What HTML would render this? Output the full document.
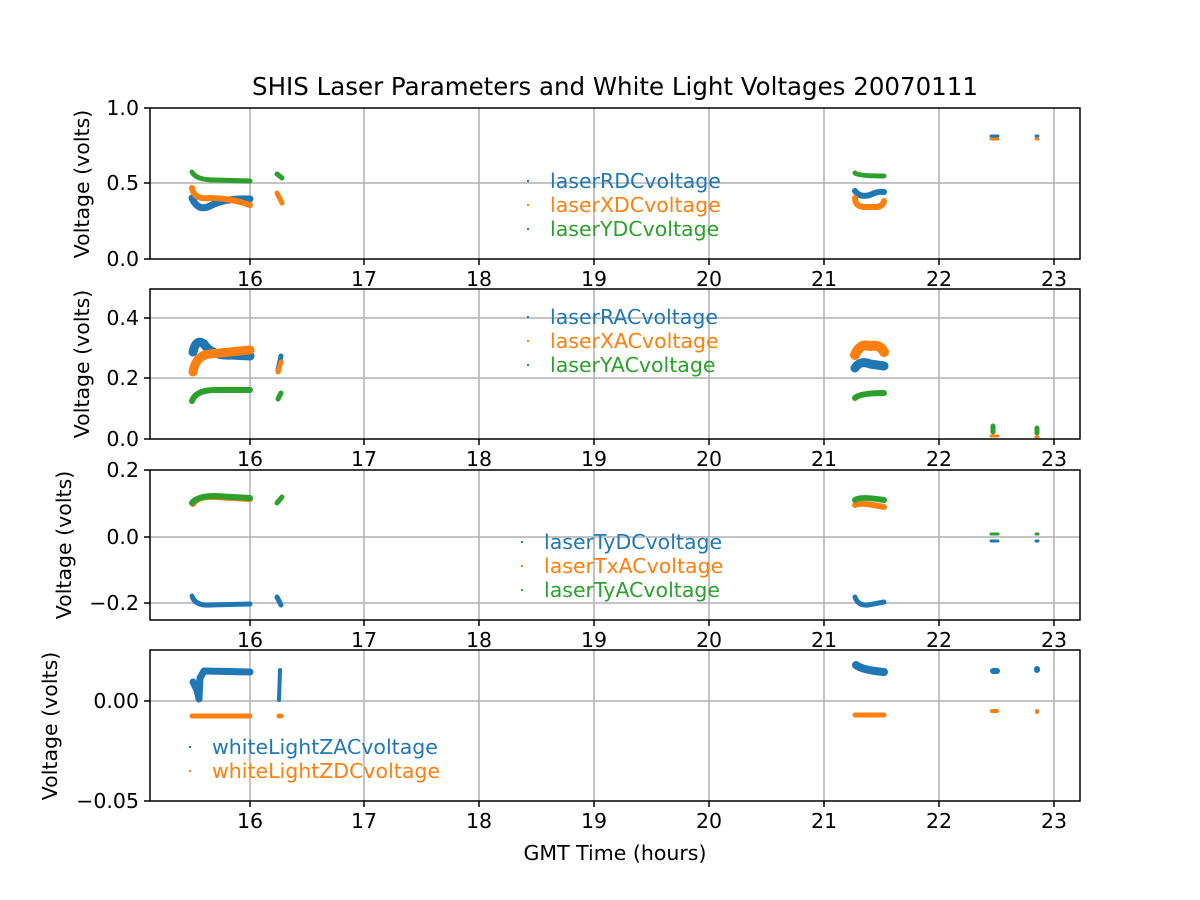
<!DOCTYPE html>
<html><head><meta charset="utf-8"><style>body{margin:0;background:#fff}svg{display:block}text{font-family:"DejaVu Sans","Liberation Sans",sans-serif;fill:#000}</style></head><body>
<svg width="1200" height="900" xmlns="http://www.w3.org/2000/svg">
<rect width="1200" height="900" fill="#fff"/>
<text x="615" y="95" font-size="24.5" text-anchor="middle">SHIS Laser Parameters and White Light Voltages 20070111</text>
<g stroke="#b0b0b0" stroke-width="1.5">
<g id="vg"><line x1="250" x2="250" y1="108" y2="259"/><line x1="364" x2="364" y1="108" y2="259"/><line x1="479" x2="479" y1="108" y2="259"/><line x1="594" x2="594" y1="108" y2="259"/><line x1="709" x2="709" y1="108" y2="259"/><line x1="824" x2="824" y1="108" y2="259"/><line x1="939" x2="939" y1="108" y2="259"/><line x1="1054" x2="1054" y1="108" y2="259"/></g>
<use href="#vg" y="181"/><use href="#vg" y="362"/><use href="#vg" y="542"/>
<line x1="150" x2="1080" y1="183" y2="183"/>
<line x1="150" x2="1080" y1="318" y2="318"/><line x1="150" x2="1080" y1="378" y2="378"/>
<line x1="150" x2="1080" y1="537" y2="537"/><line x1="150" x2="1080" y1="603" y2="603"/>
<line x1="150" x2="1080" y1="701" y2="701"/>
</g>
<g fill="none" stroke-linecap="round" stroke-linejoin="round">
<!-- panel1 -->
<path d="M192 198 Q198 212 210 206 Q225 198 250 199" stroke="#1f77b4" stroke-width="7"/>
<path d="M192 188 Q194 200 210 198 Q230 198 250 205" stroke="#ff7f0e" stroke-width="6"/>
<path d="M192 172 Q196 180 215 180 L250 181" stroke="#2ca02c" stroke-width="5"/>
<path d="M277 174 L282 178" stroke="#2ca02c" stroke-width="5"/>
<path d="M277 193 L282 203" stroke="#ff7f0e" stroke-width="5"/>
<path d="M855 191 Q860 198 870 195 Q878 191 884 192" stroke="#1f77b4" stroke-width="6"/>
<path d="M855 198 Q855 208 868 207 L877 207 Q883 206 884 201" stroke="#ff7f0e" stroke-width="6"/>
<path d="M855 173 Q858 176 884 176" stroke="#2ca02c" stroke-width="5"/>
<path d="M991 136 L998 136 M1036 136 L1038 136" stroke="#1f77b4" stroke-width="3"/>
<path d="M991 139 L998 139 M1036 139 L1038 139" stroke="#ff7f0e" stroke-width="3"/>
<!-- panel2 -->
<path d="M193 352 Q196 338 204 344 Q212 356 230 355 L250 356" stroke="#1f77b4" stroke-width="9"/>
<path d="M193 372 Q196 355 210 354 Q230 352 250 350" stroke="#ff7f0e" stroke-width="9"/>
<path d="M192 401 Q196 390 215 390 L250 390" stroke="#2ca02c" stroke-width="6"/>
<path d="M278 370 L281 356" stroke="#1f77b4" stroke-width="5"/>
<path d="M278 372 L281 362" stroke="#ff7f0e" stroke-width="5"/>
<path d="M278 399 L281 393" stroke="#2ca02c" stroke-width="5"/>
<path d="M855 368 Q860 360 870 364 L884 366" stroke="#1f77b4" stroke-width="9"/>
<path d="M855 355 Q860 343 870 346 Q880 344 884 352" stroke="#ff7f0e" stroke-width="10"/>
<path d="M855 398 Q860 393 884 393" stroke="#2ca02c" stroke-width="6"/>
<path d="M993 426 L993 432 M1037 428 L1037 433" stroke="#2ca02c" stroke-width="5"/>
<path d="M991 436 L998 436 M1036 437 L1038 437" stroke="#ff7f0e" stroke-width="3"/>
<!-- panel3 -->
<path d="M193 504 Q198 496 215 497 L250 499" stroke="#ff7f0e" stroke-width="6"/>
<path d="M192 503 Q197 496 215 496 L250 498" stroke="#2ca02c" stroke-width="6"/>
<path d="M192 596 Q195 606 210 605 L250 604" stroke="#1f77b4" stroke-width="5"/>
<path d="M277 503 L282 497" stroke="#2ca02c" stroke-width="5"/>
<path d="M277 597 L281 605" stroke="#1f77b4" stroke-width="5"/>
<path d="M855 505 Q860 502 884 507" stroke="#ff7f0e" stroke-width="6"/>
<path d="M855 500 Q860 496 884 500" stroke="#2ca02c" stroke-width="6"/>
<path d="M855 597 Q858 606 868 605 L884 602" stroke="#1f77b4" stroke-width="5"/>
<path d="M991 534 L998 534 M1036 534 L1038 534" stroke="#2ca02c" stroke-width="3"/>
<path d="M991 541 L998 541 M1036 541 L1038 541" stroke="#1f77b4" stroke-width="3"/>
<!-- panel4 -->
<path d="M193 682 L197 690 L199 699 L200 678 L204 671 L250 672" stroke="#1f77b4" stroke-width="7"/>
<path d="M192 716 L250 716" stroke="#ff7f0e" stroke-width="5"/>
<path d="M279 700 L280 670" stroke="#1f77b4" stroke-width="4"/>
<path d="M279 716 L281 716" stroke="#ff7f0e" stroke-width="5"/>
<path d="M856 665 Q862 670 884 672" stroke="#1f77b4" stroke-width="8"/>
<path d="M855 715 L884 715" stroke="#ff7f0e" stroke-width="5"/>
<path d="M993 671 L997 671 M1037 669 L1037 670" stroke="#1f77b4" stroke-width="6"/>
<path d="M992 711 L997 711 M1037 711 L1037 712" stroke="#ff7f0e" stroke-width="4"/>
</g>
<g fill="none" stroke="#000" stroke-width="1.5">
<rect x="150" y="108" width="930" height="151"/>
<rect x="150" y="289" width="930" height="150"/>
<rect x="150" y="470" width="930" height="150"/>
<rect x="150" y="650" width="930" height="151"/>
</g>
<g stroke="#000" stroke-width="1.5">
<g id="xt"><line x1="250" x2="250" y1="259" y2="265"/><line x1="364" x2="364" y1="259" y2="265"/><line x1="479" x2="479" y1="259" y2="265"/><line x1="594" x2="594" y1="259" y2="265"/><line x1="709" x2="709" y1="259" y2="265"/><line x1="824" x2="824" y1="259" y2="265"/><line x1="939" x2="939" y1="259" y2="265"/><line x1="1054" x2="1054" y1="259" y2="265"/></g>
<use href="#xt" y="180"/><use href="#xt" y="361"/><use href="#xt" y="542"/>
<line x1="144" x2="150" y1="108" y2="108"/><line x1="144" x2="150" y1="183" y2="183"/><line x1="144" x2="150" y1="259" y2="259"/>
<line x1="144" x2="150" y1="318" y2="318"/><line x1="144" x2="150" y1="378" y2="378"/><line x1="144" x2="150" y1="439" y2="439"/>
<line x1="144" x2="150" y1="470" y2="470"/><line x1="144" x2="150" y1="537" y2="537"/><line x1="144" x2="150" y1="603" y2="603"/>
<line x1="144" x2="150" y1="701" y2="701"/><line x1="144" x2="150" y1="801" y2="801"/>
</g>
<g font-size="20.5" text-anchor="middle">
<g id="xl"><text x="250" y="286">16</text><text x="364" y="286">17</text><text x="479" y="286">18</text><text x="594" y="286">19</text><text x="709" y="286">20</text><text x="824" y="286">21</text><text x="939" y="286">22</text><text x="1054" y="286">23</text></g>
<use href="#xl" y="180"/><use href="#xl" y="361"/><use href="#xl" y="542"/>
<text x="615" y="860">GMT Time (hours)</text>
</g>
<g font-size="20.5" text-anchor="end">
<text x="139" y="115">1.0</text><text x="139" y="190">0.5</text><text x="139" y="266">0.0</text>
<text x="139" y="325">0.4</text><text x="139" y="385">0.2</text><text x="139" y="446">0.0</text>
<text x="139" y="477">0.2</text><text x="139" y="544">0.0</text><text x="139" y="610">−0.2</text>
<text x="139" y="708">0.00</text><text x="139" y="808">−0.05</text>
</g>
<g font-size="20.5" text-anchor="middle">
<text transform="translate(89,184) rotate(-90)">Voltage (volts)</text>
<text transform="translate(89,364) rotate(-90)">Voltage (volts)</text>
<text transform="translate(71,545) rotate(-90)">Voltage (volts)</text>
<text transform="translate(57,726) rotate(-90)">Voltage (volts)</text>
</g>
<g font-size="20.5">
<rect x="527" y="180" width="2" height="2" fill="#1f77b4"/><text x="550" y="188" style="fill:#1f77b4">laserRDCvoltage</text>
<rect x="527" y="204" width="2" height="2" fill="#ff7f0e"/><text x="550" y="212" style="fill:#ff7f0e">laserXDCvoltage</text>
<rect x="527" y="228" width="2" height="2" fill="#2ca02c"/><text x="550" y="236" style="fill:#2ca02c">laserYDCvoltage</text>
<rect x="527" y="316" width="2" height="2" fill="#1f77b4"/><text x="550" y="324" style="fill:#1f77b4">laserRACvoltage</text>
<rect x="527" y="340" width="2" height="2" fill="#ff7f0e"/><text x="550" y="348" style="fill:#ff7f0e">laserXACvoltage</text>
<rect x="527" y="364" width="2" height="2" fill="#2ca02c"/><text x="550" y="372" style="fill:#2ca02c">laserYACvoltage</text>
<rect x="521" y="541" width="2" height="2" fill="#1f77b4"/><text x="544" y="549" style="fill:#1f77b4">laserTyDCvoltage</text>
<rect x="521" y="565" width="2" height="2" fill="#ff7f0e"/><text x="544" y="573" style="fill:#ff7f0e">laserTxACvoltage</text>
<rect x="521" y="589" width="2" height="2" fill="#2ca02c"/><text x="544" y="597" style="fill:#2ca02c">laserTyACvoltage</text>
<rect x="189" y="746" width="2" height="2" fill="#1f77b4"/><text x="212" y="754" style="fill:#1f77b4">whiteLightZACvoltage</text>
<rect x="189" y="770" width="2" height="2" fill="#ff7f0e"/><text x="212" y="778" style="fill:#ff7f0e">whiteLightZDCvoltage</text>
</g>
</svg>
</body></html>
